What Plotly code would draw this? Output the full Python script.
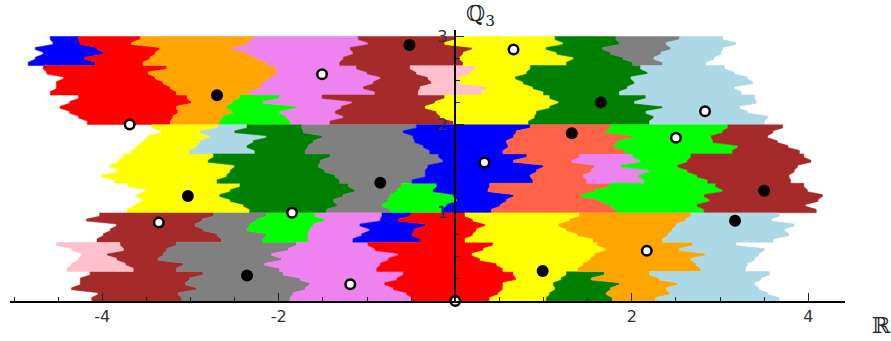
import plotly.graph_objects as go

CELLS = 18  # each unit-height band is read in 18 horizontal slices, top to bottom
THIRD = 6   # slices per third of a band; edges jump sharply on these lines

BLUE, RED, ORANGE, VIOLET = "#0000ff", "#ff0000", "#ffa500", "#ee82ee"
BROWN, YELLOW, GREEN, GRAY = "#a52a2a", "#ffff00", "#008000", "#808080"
LBLUE, LIME, PINK, TOMATO = "#add8e6", "#00ff00", "#ffc0cb", "#ff6347"

# ---- band 2..3 -----
t_blue_l = [-4.59, -4.56, -4.76, -4.67, -4.76, -4.84]
t_blue_r = [-4.27, -4.25, -4.06, -3.99, -4.20, -4.08]
t_red_l_mid = [-4.67, -4.63, -4.44, -4.52, -4.52, -4.59]
t_red_l_bot = [-4.27, -4.37, -4.48, -4.37, -4.27, -4.17]
t_red_r = [-3.57, -3.67, -3.35, -3.40, -3.46, -3.54,
           -3.27, -3.48, -3.40, -3.31, -3.23, -3.16,
           -3.04, -2.99, -3.16, -3.14, -3.20, -3.23]
t_orange_r = [-2.29, -2.36, -2.52, -2.36, -2.25, -2.14,
              -2.04, -2.02, -2.10, -2.18, -2.21, -2.33]
t_lime_l = [-2.44, -2.52, -2.59, -2.52, -2.63, -2.67]
t_lime_r = [-1.99, -2.18, -1.80, -1.99, -1.91, -1.87]
t_violet_r = [-1.10, -0.99, -1.19, -1.16, -1.27, -1.31,
              -1.12, -1.00, -0.85, -0.93, -1.04, -0.91,
              -1.51, -1.17, -1.29, -1.36, -1.27, -1.42]
t_brown_r_top = [0.00, -0.12, 0.19, 0.09, 0.05, 0.09]
t_pink_l = [-0.51, -0.44, -0.31, -0.27, -0.40, -0.42]
t_pink_r = [0.22, 0.17, 0.05, 0.05, 0.36, 0.30]
t_brown_r_bot = [-0.12, -0.23, -0.34, -0.21, -0.17, -0.02]
t_yellow_r = [1.13, 1.22, 1.03, 1.15, 1.34, 1.26,
              0.85, 0.81, 0.68, 0.77, 0.88, 1.00,
              1.07, 1.17, 1.07, 0.92, 0.90, 0.83]
t_gray_l = [1.82, 1.86, 1.67, 1.76, 1.90, 2.01]
t_gray_r = [2.54, 2.39, 2.44, 2.33, 2.25, 2.35]
t_green_r = [2.10, 2.18, 1.99, 2.03, 1.95, 1.86,
             2.16, 2.03, 2.35, 2.16, 2.25, 2.20]
t_lblue_r = [3.03, 3.18, 3.03, 3.01, 2.93, 2.84,
             3.05, 3.16, 3.31, 3.37, 3.16, 3.24,
             3.39, 3.41, 3.22, 3.31, 3.54, 3.50]

# ---- band 1..2 -----
m_yellow_l = [-3.44, -3.33, -3.48, -3.54, -3.61, -3.67,
              -3.76, -3.82, -3.91, -3.82, -4.01, -3.86,
              -3.71, -3.50, -3.61, -3.55, -3.63, -3.72]
m_lblue_l = [-2.69, -2.89, -2.78, -2.89, -2.93, -3.01]
m_lblue_r = [-2.36, -2.50, -2.14, -2.29, -2.36, -2.27]
m_yellow_r = [-2.74, -2.80, -2.50, -2.55, -2.59, -2.70,
              -2.44, -2.55, -2.67, -2.55, -2.40, -2.33]
m_green_r = [-1.74, -1.72, -1.51, -1.61, -1.67, -1.70,
             -1.42, -1.53, -1.55, -1.48, -1.36, -1.31,
             -1.21, -1.14, -1.27, -1.38, -1.34, -1.46]
m_gray_r = [-0.44, -0.59, -0.48, -0.46, -0.36, -0.29,
            -0.19, -0.14, -0.31, -0.34, -0.34, -0.49]
m_lime_l = [-0.61, -0.66, -0.74, -0.76, -0.83, -0.74]
m_lime_r = [-0.21, -0.25, -0.02, 0.02, -0.10, -0.15]
m_blue_r = [0.85, 0.69, 0.66, 0.58, 0.60, 0.54,
            0.81, 0.66, 1.00, 0.92, 0.85, 0.88,
            0.39, 0.37, 0.66, 0.58, 0.51, 0.41]
m_violet_l = [1.41, 1.32, 1.58, 1.54, 1.45, 1.49]
m_violet_r = [2.01, 2.10, 1.88, 2.20, 2.08, 2.14]
m_tomato_r_top = [1.76, 1.71, 2.01, 1.84, 1.80, 1.93]
m_tomato_r_bot = [1.75, 1.58, 1.42, 1.63, 1.75, 1.82]
m_lime2_r = [3.09, 3.03, 2.90, 2.92, 3.20, 3.14,
             2.67, 2.63, 2.52, 2.63, 2.74, 2.86,
             2.95, 3.03, 2.82, 2.88, 2.74, 2.82]
m_brown_r = [3.71, 3.60, 3.54, 3.65, 3.77, 3.90,
             3.95, 4.03, 3.88, 3.84, 3.78, 3.80,
             3.95, 3.99, 4.16, 4.11, 3.97, 4.09]

# ---- band 0..1 -----
b_brown_l_top = [-4.03, -4.18, -3.84, -3.91, -3.99, -4.06]
b_pink_l = [-4.52, -4.35, -4.23, -4.27, -4.35, -4.40]
b_pink_r = [-3.80, -3.76, -3.95, -3.84, -3.74, -3.65]
b_brown_l_bot = [-4.14, -4.25, -4.25, -4.35, -4.05, -4.12]
b_brown_r = [-2.74, -2.87, -2.95, -2.86, -2.70, -2.65,
             -3.16, -3.27, -3.31, -3.37, -3.08, -3.16,
             -2.86, -3.01, -3.06, -2.93, -3.14, -3.10]
b_lime_l = [-2.14, -2.25, -2.33, -2.36, -2.14, -2.18]
b_lime_r = [-1.59, -1.48, -1.61, -1.65, -1.67, -1.67]
b_gray_r = [-1.80, -1.89, -2.08, -1.97, -2.16, -1.99,
            -1.95, -1.76, -1.65, -1.70, -1.84, -1.87]
b_blue_l = [-0.83, -0.85, -1.08, -0.97, -1.06, -1.16]
b_blue_r = [-0.51, -0.65, -0.34, -0.46, -0.49, -0.40]
b_red_l = [-0.99, -0.91, -0.65, -0.76, -0.85, -0.89,
           -0.59, -0.66, -0.80, -0.70, -0.55, -0.49]
b_red_r = [0.11, 0.20, 0.34, 0.24, 0.20, 0.11,
           0.43, 0.32, 0.19, 0.28, 0.47, 0.54,
           0.66, 0.69, 0.54, 0.54, 0.49, 0.39]
b_yellow_r = [1.41, 1.30, 1.17, 1.26, 1.39, 1.56,
              1.61, 1.71, 1.58, 1.53, 1.45, 1.39]
b_green_l = [1.26, 1.20, 1.11, 1.13, 1.07, 1.03]
b_green_r = [1.69, 1.54, 1.86, 1.76, 1.71, 1.78]
b_orange_r = [2.67, 2.61, 2.50, 2.46, 2.41, 2.35,
              2.69, 2.54, 2.84, 2.67, 2.73, 2.78,
              2.20, 2.31, 2.52, 2.39, 2.43, 2.27]
b_lblue_r = [3.67, 3.58, 3.84, 3.73, 3.78, 3.60,
             3.18, 3.50, 3.44, 3.39, 3.31, 3.29,
             3.56, 3.46, 3.39, 3.44, 3.54, 3.67]

# colour, band floor, first slice, left edge, right edge
regions = [
    (BLUE, 2, 0, t_blue_l, t_blue_r),
    (RED, 2, 0, t_blue_r + t_red_l_mid + t_red_l_bot, t_red_r),
    (ORANGE, 2, 0, t_red_r, t_orange_r + t_lime_l),
    (LIME, 2, 12, t_lime_l, t_lime_r),
    (VIOLET, 2, 0, t_orange_r + t_lime_r, t_violet_r),
    (BROWN, 2, 0, t_violet_r, t_brown_r_top + t_pink_l + t_brown_r_bot),
    (PINK, 2, 6, t_pink_l, t_pink_r),
    (YELLOW, 2, 0, t_brown_r_top + t_pink_r + t_brown_r_bot, t_yellow_r),
    (GREEN, 2, 0, t_yellow_r, t_gray_l + t_green_r),
    (GRAY, 2, 0, t_gray_l, t_gray_r),
    (LBLUE, 2, 0, t_gray_r + t_green_r, t_lblue_r),

    (YELLOW, 1, 0, m_yellow_l, m_lblue_l + m_yellow_r),
    (LBLUE, 1, 0, m_lblue_l, m_lblue_r),
    (GREEN, 1, 0, m_lblue_r + m_yellow_r, m_green_r),
    (GRAY, 1, 0, m_green_r, m_gray_r + m_lime_l),
    (LIME, 1, 12, m_lime_l, m_lime_r),
    (BLUE, 1, 0, m_gray_r + m_lime_r, m_blue_r),
    (TOMATO, 1, 0, m_blue_r, m_tomato_r_top + m_violet_l + m_tomato_r_bot),
    (VIOLET, 1, 6, m_violet_l, m_violet_r),
    (LIME, 1, 0, m_tomato_r_top + m_violet_r + m_tomato_r_bot, m_lime2_r),
    (BROWN, 1, 0, m_lime2_r, m_brown_r),

    (BROWN, 0, 0, b_brown_l_top + b_pink_r + b_brown_l_bot, b_brown_r),
    (PINK, 0, 6, b_pink_l, b_pink_r),
    (GRAY, 0, 0, b_brown_r, b_lime_l + b_gray_r),
    (LIME, 0, 0, b_lime_l, b_lime_r),
    (VIOLET, 0, 0, b_lime_r + b_gray_r, b_blue_l + b_red_l),
    (BLUE, 0, 0, b_blue_l, b_blue_r),
    (RED, 0, 0, b_blue_r + b_red_l, b_red_r),
    (YELLOW, 0, 0, b_red_r, b_yellow_r + b_green_l),
    (GREEN, 0, 12, b_green_l, b_green_r),
    (ORANGE, 0, 0, b_yellow_r + b_green_r, b_orange_r),
    (LBLUE, 0, 0, b_orange_r, b_lblue_r),
]

black_x = [-0.52, -2.70, 1.65, 1.32, -0.85, -3.03, 3.50, 3.17, 0.99, -2.36]
black_y = [2.90, 2.33, 2.25, 1.90, 1.34, 1.19, 1.25, 0.91, 0.34, 0.29]
white_x = [0.66, -1.51, 2.83, -3.69, 2.50, 0.33, -1.85, -3.36, 2.17, -1.19, 0.0]
white_y = [2.85, 2.57, 2.15, 2.00, 1.85, 1.57, 1.00, 0.89, 0.57, 0.19, 0.0]

x_ticks = [-4, -2, 2, 4]
x_labels = ["-4", "-2", "2", "4"]
y_ticks = [1, 2, 3]
y_labels = ["1", "2", "3"]
X_RANGE = [-5.046, 4.416]
Y_RANGE = [0, 3.07]


def edge(xs, floor, first):
    """Edge with a short flat tip in each slice, sharp jumps on the third lines."""
    px, py = [], []
    for i, x in enumerate(xs):
        k = first + i
        top = floor + 1 - k / CELLS
        if k % THIRD == 0:
            px.append(x)
            py.append(top)
        px += [x, x]
        py += [top - 0.3 / CELLS, top - 0.7 / CELLS]
        if k % THIRD == THIRD - 1:
            px.append(x)
            py.append(top - 1 / CELLS)
    return px, py


fig = go.Figure()
for colour, floor, first, left, right in regions:
    lx, ly = edge(left, floor, first)
    rx, ry = edge(right, floor, first)
    fig.add_trace(go.Scatter(
        x=lx + rx[::-1], y=ly + ry[::-1], mode="lines", fill="toself",
        fillcolor=colour, line=dict(color=colour, width=0.5),
        hoverinfo="skip", showlegend=False,
    ))

fig.add_trace(go.Scatter(
    x=black_x, y=black_y, mode="markers", cliponaxis=False, showlegend=False,
    marker=dict(size=12, color="black"), hoverinfo="skip",
))
fig.add_trace(go.Scatter(
    x=white_x, y=white_y, mode="markers", cliponaxis=False, showlegend=False,
    marker=dict(size=9.5, color="white", line=dict(color="black", width=2.5)),
    hoverinfo="skip",
))

tick_font = dict(family="DejaVu Sans", size=16, color="#333333")
fig.update_layout(
    width=891, height=341, autosize=False,
    margin=dict(l=10, r=46, t=30, b=40),
    paper_bgcolor="white", plot_bgcolor="white",
    font=dict(family="DejaVu Sans"),
    xaxis=dict(
        range=X_RANGE, showgrid=False, zeroline=False, showline=True,
        linecolor="black", linewidth=1.5, ticks="inside", ticklen=8,
        tickwidth=1, tickcolor="#222222", tickmode="array",
        tickvals=x_ticks, ticktext=x_labels, tickfont=tick_font,
        ticklabelstandoff=0,
        minor=dict(tickmode="linear", tick0=0, dtick=0.5, ticks="inside",
                   ticklen=4, tickwidth=1, tickcolor="#222222", showgrid=False),
    ),
    yaxis=dict(
        range=Y_RANGE, showgrid=False, zeroline=False, showline=True,
        anchor="free", position=-X_RANGE[0] / (X_RANGE[1] - X_RANGE[0]),
        linecolor="black", linewidth=1.5, ticks="inside", ticklen=8,
        tickwidth=1, tickcolor="#222222", tickmode="array",
        tickvals=y_ticks, ticktext=y_labels, tickfont=tick_font,
        ticklabelstandoff=4,
        minor=dict(tickmode="linear", tick0=0, dtick=0.25, ticks="inside",
                   ticklen=4, tickwidth=1, tickcolor="#222222", showgrid=False),
    ),
    annotations=[
        dict(x=1.044, y=-0.0886, xref="paper", yref="paper", text="ℝ", showarrow=False,
             xanchor="center", yanchor="middle",
             font=dict(family="DejaVu Serif", size=22, color="#222222")),
        dict(x=0.564, y=1.052, xref="paper", yref="paper", text="ℚ<sub>3</sub>", showarrow=False,
             xanchor="center", yanchor="middle",
             font=dict(family="DejaVu Serif", size=22, color="#222222")),
    ],
)

fig.write_html("out.html", config=dict(displayModeBar=False),
               post_script="document.body.style.margin='0';")
